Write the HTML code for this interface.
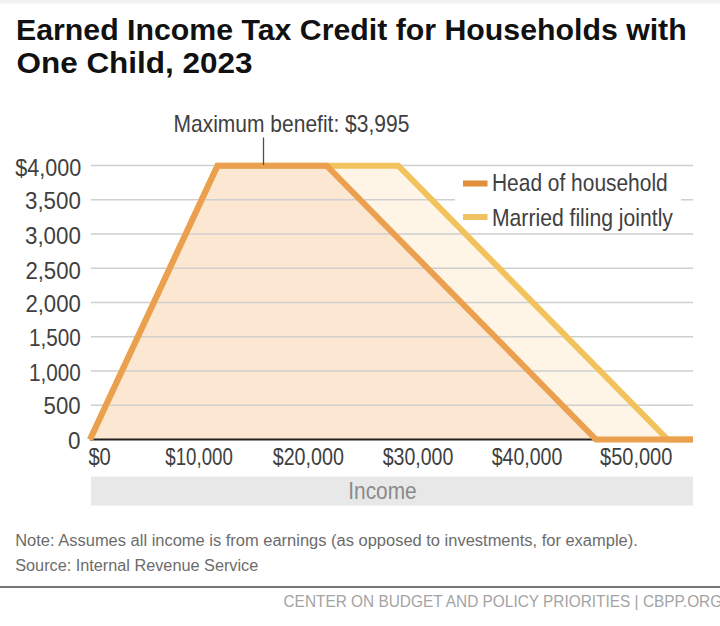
<!DOCTYPE html>
<html><head><meta charset="utf-8">
<style>
html,body{margin:0;padding:0;background:#fff;}
body{width:720px;height:626px;overflow:hidden;position:relative;}
svg{position:absolute;left:0;top:0;display:block;}
text{font-family:"Liberation Sans",sans-serif;}
</style></head>
<body>
<svg width="720" height="626" viewBox="0 0 720 626">
<defs>
<linearGradient id="topg" x1="0" y1="0" x2="0" y2="1">
<stop offset="0" stop-color="#f1f1f1"/><stop offset="1" stop-color="#ffffff"/>
</linearGradient>
</defs>
<rect x="0" y="0" width="720" height="2.5" fill="#f1f1f1"/><rect x="0" y="2.5" width="720" height="2.5" fill="url(#topg)"/>
<polygon points="90,439.5 217.5,165.7 398.3,165.7 667.7,439.5" fill="#fef5e6"/>
<polygon points="90,439.5 217.5,165.7 326.7,165.7 596,439.5" fill="#fce7d2"/>
<g stroke="#cfcfcf" stroke-width="1.5">
<line x1="91" y1="165.5" x2="693" y2="165.5"/>
<line x1="91" y1="199.75" x2="693" y2="199.75"/>
<line x1="91" y1="234" x2="693" y2="234"/>
<line x1="91" y1="268.25" x2="693" y2="268.25"/>
<line x1="91" y1="302.5" x2="693" y2="302.5"/>
<line x1="91" y1="336.75" x2="693" y2="336.75"/>
<line x1="91" y1="371" x2="693" y2="371"/>
<line x1="91" y1="405.25" x2="693" y2="405.25"/>
</g>
<line x1="90" y1="439.5" x2="600" y2="439.5" stroke="#222" stroke-width="2.2"/>
<rect x="455" y="169" width="226" height="63" fill="#fff"/>
<polyline points="90,439.5 217.5,165.7 398.3,165.7 667.7,439.5 693,439.5" fill="none" stroke="#f2c25c" stroke-width="6" stroke-linejoin="miter"/>
<polyline points="90,439.5 217.5,165.7 326.7,165.7 596,439.5 693,439.5" fill="none" stroke="#eaa04e" stroke-width="6" stroke-linejoin="miter"/>
<line x1="263.5" y1="137.5" x2="263.5" y2="165" stroke="#505050" stroke-width="1.3"/>
<rect x="463" y="180.5" width="24.5" height="6" fill="#e0903a"/>
<rect x="463" y="214" width="24.5" height="6" fill="#f0c263"/>
<rect x="91" y="476.7" width="602" height="28.8" fill="#e8e8e8"/>
<rect x="0" y="586.2" width="720" height="1.6" fill="#555"/>
<text x="15.99" y="39.60" font-size="30.2" font-weight="bold" fill="#111" textLength="670.71" lengthAdjust="spacingAndGlyphs">Earned Income Tax Credit for Households with</text>
<text x="16.46" y="73.30" font-size="30.2" font-weight="bold" fill="#111" textLength="236.05" lengthAdjust="spacingAndGlyphs">One Child, 2023</text>
<text x="173.52" y="131.60" font-size="23.6" font-weight="normal" fill="#404040" textLength="235.80" lengthAdjust="spacingAndGlyphs">Maximum benefit: $3,995</text>
<text x="492.01" y="191.30" font-size="24.8" font-weight="normal" fill="#404040" textLength="175.69" lengthAdjust="spacingAndGlyphs">Head of household</text>
<text x="492.00" y="225.80" font-size="24.8" font-weight="normal" fill="#404040" textLength="180.90" lengthAdjust="spacingAndGlyphs">Married filing jointly</text>
<text x="15.30" y="175.50" font-size="24.3" font-weight="normal" fill="#404040" textLength="65.98" lengthAdjust="spacingAndGlyphs">$4,000</text>
<text x="24.98" y="209.40" font-size="24.3" font-weight="normal" fill="#404040" textLength="55.87" lengthAdjust="spacingAndGlyphs">3,500</text>
<text x="24.98" y="243.50" font-size="24.3" font-weight="normal" fill="#404040" textLength="55.87" lengthAdjust="spacingAndGlyphs">3,000</text>
<text x="25.39" y="278.80" font-size="24.3" font-weight="normal" fill="#404040" textLength="55.45" lengthAdjust="spacingAndGlyphs">2,500</text>
<text x="25.39" y="312.30" font-size="24.3" font-weight="normal" fill="#404040" textLength="55.45" lengthAdjust="spacingAndGlyphs">2,000</text>
<text x="29.00" y="346.40" font-size="24.3" font-weight="normal" fill="#404040" textLength="51.80" lengthAdjust="spacingAndGlyphs">1,500</text>
<text x="29.00" y="380.70" font-size="24.3" font-weight="normal" fill="#404040" textLength="51.80" lengthAdjust="spacingAndGlyphs">1,000</text>
<text x="43.59" y="414.20" font-size="24.3" font-weight="normal" fill="#404040" textLength="37.01" lengthAdjust="spacingAndGlyphs">500</text>
<text x="68.08" y="449.10" font-size="24.3" font-weight="normal" fill="#404040" textLength="12.50" lengthAdjust="spacingAndGlyphs">0</text>
<text x="88.40" y="464.60" font-size="24.3" font-weight="normal" fill="#404040" textLength="22.46" lengthAdjust="spacingAndGlyphs">$0</text>
<text x="165.30" y="464.60" font-size="24.3" font-weight="normal" fill="#404040" textLength="67.54" lengthAdjust="spacingAndGlyphs">$10,000</text>
<text x="272.70" y="464.60" font-size="24.3" font-weight="normal" fill="#404040" textLength="71.27" lengthAdjust="spacingAndGlyphs">$20,000</text>
<text x="382.70" y="464.60" font-size="24.3" font-weight="normal" fill="#404040" textLength="70.67" lengthAdjust="spacingAndGlyphs">$30,000</text>
<text x="491.70" y="464.60" font-size="24.3" font-weight="normal" fill="#404040" textLength="70.67" lengthAdjust="spacingAndGlyphs">$40,000</text>
<text x="600.00" y="464.60" font-size="24.3" font-weight="normal" fill="#404040" textLength="72.38" lengthAdjust="spacingAndGlyphs">$50,000</text>
<text x="348.26" y="499.30" font-size="24" font-weight="normal" fill="#8a8a8a" textLength="68.35" lengthAdjust="spacingAndGlyphs">Income</text>
<text x="15.22" y="545.50" font-size="16" font-weight="normal" fill="#6c6c6c" textLength="622.55" lengthAdjust="spacingAndGlyphs">Note: Assumes all income is from earnings (as opposed to investments, for example).</text>
<text x="15.23" y="570.75" font-size="16" font-weight="normal" fill="#6c6c6c" textLength="243.02" lengthAdjust="spacingAndGlyphs">Source: Internal Revenue Service</text>
<text x="283.51" y="607.00" font-size="15.6" font-weight="normal" fill="#a3a3a3" textLength="438.72" lengthAdjust="spacingAndGlyphs">CENTER ON BUDGET AND POLICY PRIORITIES | CBPP.ORG</text>
</svg>
</body></html>
